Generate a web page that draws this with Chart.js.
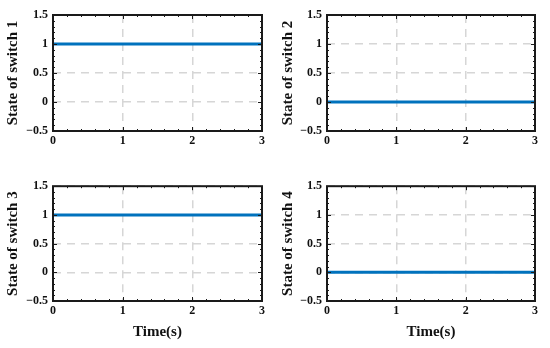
<!DOCTYPE html>
<html>
<head>
<meta charset="utf-8">
<script src="https://cdn.jsdelivr.net/npm/chart.js@4.4.0/dist/chart.umd.min.js"></script>
<style>
  html, body { margin: 0; padding: 0; background: #fff; }
  #wrap { position: relative; width: 550px; height: 348px; }
  .cell { position: absolute; width: 275px; height: 174px; }
</style>
</head>
<body>
<div id="wrap">
  <div class="cell" style="left:0;top:0"><canvas id="c1"></canvas></div>
  <div class="cell" style="left:275px;top:0"><canvas id="c2"></canvas></div>
  <div class="cell" style="left:0;top:174px"><canvas id="c3"></canvas></div>
  <div class="cell" style="left:275px;top:174px"><canvas id="c4"></canvas></div>
</div>
<script>
// data
const time = [0, 3];
const switch1 = [1, 1];
const switch2 = [0, 0];
const switch3 = [1, 1];
const switch4 = [0, 0];
const xTicks = [0, 1, 2, 3];
const yTicks = [-0.5, 0, 0.5, 1, 1.5];
const yTitles = ['State of switch 1', 'State of switch 2', 'State of switch 3', 'State of switch 4'];
const xTitle = 'Time(s)';

const FONT = '"Liberation Serif", "Times New Roman", serif';

// black frame plus inward major / minor ticks like a matlab axes box
const boxPlugin = {
  id: 'box',
  afterDatasetsDraw(chart) {
    const { ctx, chartArea: a, scales: { x, y } } = chart;
    ctx.save();
    ctx.strokeStyle = '#1a1a1a';
    ctx.lineWidth = 1;
    ctx.beginPath();
    for (let i = 0; i <= 15; i++) {
      const px = Math.round(x.getPixelForValue(i * 0.2)) + 0.5;
      const len = i % 5 === 0 ? 4 : 2;
      ctx.moveTo(px, a.bottom); ctx.lineTo(px, a.bottom - len);
      ctx.moveTo(px, a.top); ctx.lineTo(px, a.top + len);
    }
    for (let i = 0; i <= 20; i++) {
      const py = Math.round(y.getPixelForValue(-0.5 + i * 0.1)) + 0.5;
      const len = i % 5 === 0 ? 4 : 2;
      ctx.moveTo(a.left, py); ctx.lineTo(a.left + len, py);
      ctx.moveTo(a.right, py); ctx.lineTo(a.right - len, py);
    }
    ctx.stroke();
    ctx.lineWidth = 2;
    ctx.strokeRect(a.left, a.top, a.right - a.left, a.bottom - a.top);
    ctx.restore();
  }
};

function fmt(v) {
  return v < 0 ? '\u2212' + Math.abs(v) : String(v);
}

function makeChart(id, values, yTitle, bottomRow, leftCol) {
  const yWidth = leftCol ? 53 : 52;
  const xHeight = bottomRow ? 47 : 20;
  const pad = bottomRow
    ? { left: 0, right: leftCol ? 13 : 15, top: 8, bottom: 0 }
    : { left: 0, right: leftCol ? 13 : 15, top: 15, bottom: 23 };

  new Chart(document.getElementById(id), {
    type: 'line',
    data: {
      datasets: [{
        data: time.map((t, i) => ({ x: t, y: values[i] })),
        borderColor: '#0072BD',
        borderWidth: 3,
        pointRadius: 0,
        fill: false
      }]
    },
    options: {
      responsive: true,
      maintainAspectRatio: false,
      animation: false,
      layout: { padding: pad },
      plugins: { legend: { display: false }, tooltip: { enabled: false } },
      scales: {
        x: {
          type: 'linear',
          min: 0,
          max: 3,
          afterBuildTicks: s => { s.ticks = xTicks.map(v => ({ value: v })); },
          afterFit: s => { s.height = xHeight; },
          grid: { color: '#d6d6d6', lineWidth: 1.5, drawTicks: false },
          border: { display: false, dash: [8, 6] },
          ticks: {
            padding: 3,
            maxRotation: 0,
            color: '#111',
            font: { family: FONT, size: 12, weight: 'bold' },
            callback: v => fmt(v)
          },
          title: {
            display: bottomRow,
            text: xTitle,
            color: '#111',
            padding: { top: 0, bottom: 7 },
            font: { family: FONT, size: 15, weight: 'bold' }
          }
        },
        y: {
          type: 'linear',
          min: -0.5,
          max: 1.5,
          afterBuildTicks: s => { s.ticks = yTicks.map(v => ({ value: v })); },
          afterFit: s => { s.width = yWidth; },
          grid: { color: '#d6d6d6', lineWidth: 1.5, drawTicks: false },
          border: { display: false, dash: [8, 6] },
          ticks: {
            padding: 5,
            color: '#111',
            font: { family: FONT, size: 12, weight: 'bold' },
            callback: v => fmt(v)
          },
          title: {
            display: true,
            text: yTitle,
            color: '#111',
            padding: { top: 4, bottom: 0 },
            font: { family: FONT, size: 15, weight: 'bold' }
          }
        }
      }
    },
    plugins: [boxPlugin]
  });
}

makeChart('c1', switch1, yTitles[0], false, true);
makeChart('c2', switch2, yTitles[1], false, false);
makeChart('c3', switch3, yTitles[2], true, true);
makeChart('c4', switch4, yTitles[3], true, false);
</script>
</body>
</html>
